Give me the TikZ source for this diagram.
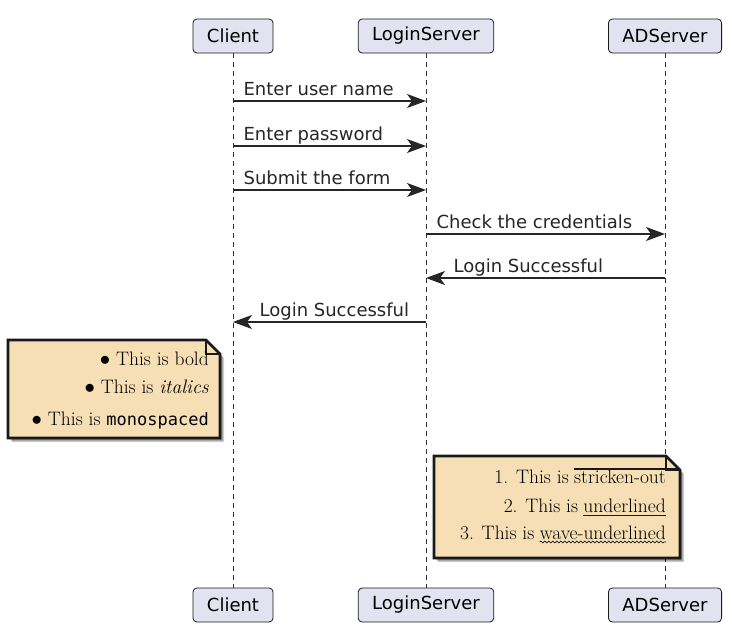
\documentclass[tikz,border=0pt]{standalone}
\usepackage{fontspec}
\setsansfont{DejaVu Sans}
\setmonofont{DejaVu Sans Mono}
\usetikzlibrary{arrows.meta,decorations.pathmorphing}
\definecolor{actorfill}{RGB}{226,226,240}
\definecolor{notefill}{RGB}{246,223,180}
\tikzset{
  actor/.style={draw=black!90, fill=actorfill, rounded corners=4pt, line width=.8pt,
    font=\sffamily\fontsize{18}{21}\selectfont, minimum height=34pt, inner xsep=14pt},
  lifeline/.style={black!80, line width=.8pt, dash pattern=on 5pt off 4pt},
  msg/.style={-{Stealth[length=19pt,width=14pt,inset=5pt]}, line width=1.2pt, black!85},
  msglabel/.style={font=\sffamily\fontsize{18}{21}\selectfont, inner sep=0pt, anchor=base west},
  notebox/.style={draw=black!90, line width=2.6pt, fill=notefill, line join=miter},
  noteshadow/.style={fill=black, opacity=.18},
  notetext/.style={font=\fontsize{19.5}{22}\selectfont, inner sep=0pt, anchor=base east},
  textline/.style={black!90, line width=1pt},
}
\begin{document}
\begin{tikzpicture}[x=1pt,y=-1pt]
\useasboundingbox (0,0) rectangle (732,635);
% participants
\node[actor] (client) at (233,36) {Client};
\node[actor] (login) at (426,36) {LoginServer};
\node[actor] (ad) at (665,36) {ADServer};
\node[actor] (clientb) at (233,605) {Client};
\node[actor] (loginb) at (426,605) {LoginServer};
\node[actor] (adb) at (665,605) {ADServer};
\draw[lifeline] (client) -- (clientb);
\draw[lifeline] (login) -- (loginb);
\draw[lifeline] (ad) -- (adb);
% messages
\draw[msg] (client |- 0,101) -- node[msglabel,pos=0,xshift=10pt,yshift=6pt] {Enter user name} (login |- 0,101);
\draw[msg] (client |- 0,146) -- node[msglabel,pos=0,xshift=10pt,yshift=6pt] {Enter password} (login |- 0,146);
\draw[msg] (client |- 0,190) -- node[msglabel,pos=0,xshift=10pt,yshift=6pt] {Submit the form} (login |- 0,190);
\draw[msg] (login |- 0,234) -- node[msglabel,pos=0,xshift=10pt,yshift=6pt] {Check the credentials} (ad |- 0,234);
\draw[msg] (ad |- 0,278) -- node[msglabel,pos=1,xshift=27pt,yshift=6pt] {Login Successful} (login |- 0,278);
\draw[msg] (login |- 0,322) -- node[msglabel,pos=1,xshift=26pt,yshift=6pt] {Login Successful} (client |- 0,322);
% note on the left
\foreach \s in {1,2,3,4}
  \fill[noteshadow] (8+\s,340+\s) -- (206+\s,340+\s) -- (220+\s,354+\s) -- (220+\s,438+\s) -- (8+\s,438+\s) -- cycle;
\draw[notebox] (8,340) -- (206,340) -- (220,354) -- (220,438) -- (8,438) -- cycle;
\draw[black!90, line width=2.6pt] (206,340) -- (206,354) -- (220,354);
\node[notetext] (bold) at (209,365) {$\bullet$ This is bold};
\node[notetext] (ital) at (209,393) {$\bullet$ This is \emph{italics}};
\node[notetext] (mono) at (209,425) {$\bullet$ This is \texttt{\fontsize{17}{20}\selectfont monospaced}};
% note on the right
\foreach \s in {1,2,3,4}
  \fill[noteshadow] (434+\s,456+\s) -- (666+\s,456+\s) -- (680+\s,470+\s) -- (680+\s,558+\s) -- (434+\s,558+\s) -- cycle;
\draw[notebox] (434,456) -- (666,456) -- (680,470) -- (680,558) -- (434,558) -- cycle;
\draw[black!90, line width=2.6pt] (666,456) -- (666,470) -- (680,470);
\node[notetext] (strikew) at (666,483) {stricken-out};
\node[notetext,xshift=-5pt] (strike) at (strikew.base west) {1. This is};
\node[notetext] (underw) at (666,512) {underlined};
\node[notetext,xshift=-5pt] (under) at (underw.base west) {2. This is};
\node[notetext] (wavew) at (666,539) {wave-underlined};
\node[notetext,xshift=-5pt] (wave) at (wavew.base west) {3. This is};
\draw[textline, line width=1.4pt] ([yshift=14pt]strikew.base west) -- ([yshift=14pt,xshift=14pt]strikew.base east);
\draw[textline] ([yshift=-3pt]underw.base west) -- ([yshift=-3pt]underw.base east);
\draw[textline, line width=.7pt, decorate, decoration={snake,amplitude=.9pt,segment length=4pt}]
  ([yshift=-3pt]wavew.base west) -- ([yshift=-3pt]wavew.base east);
\end{tikzpicture}
\end{document}
